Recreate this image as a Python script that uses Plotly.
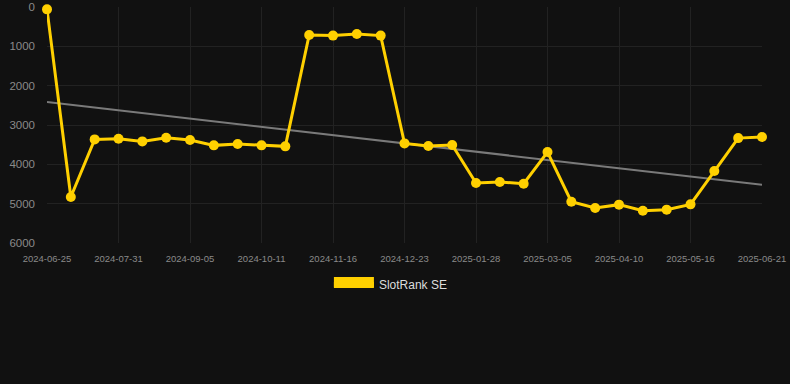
import numpy as np
import plotly.graph_objects as go

dates = ["2024-06-25", "2024-07-07", "2024-07-19", "2024-07-31", "2024-08-12", "2024-08-24",
         "2024-09-05", "2024-09-17", "2024-09-29", "2024-10-11", "2024-10-23", "2024-11-04",
         "2024-11-16", "2024-11-28", "2024-12-10", "2024-12-23", "2025-01-04", "2025-01-16",
         "2025-01-28", "2025-02-09", "2025-02-21", "2025-03-05", "2025-03-17", "2025-03-29",
         "2025-04-10", "2025-04-22", "2025-05-04", "2025-05-16", "2025-05-28", "2025-06-09",
         "2025-06-21"]
ranks = [60, 4830, 3366, 3350, 3417, 3325, 3383, 3518, 3485, 3518, 3543, 710, 727, 685, 727,
         3468, 3536, 3510, 4475, 4450, 4492, 3688, 4950, 5110, 5025, 5178, 5152, 5017, 4170,
         3333, 3307]
tick_labels = dates[::3]
y_ticks = [0, 1000, 2000, 3000, 4000, 5000, 6000]
series_name = "SlotRank SE"

idx = np.arange(len(ranks))
slope, intercept = np.polyfit(idx, ranks, 1)
trend = slope * idx + intercept

GOLD = "#FFD000"
fig = go.Figure()
fig.add_trace(go.Scatter(x=dates, y=trend, mode="lines",
                         line=dict(color="#7a7a7a", width=2), showlegend=False,
                         hoverinfo="skip"))
fig.add_trace(go.Scatter(x=dates, y=ranks, mode="lines+markers",
                         line=dict(color=GOLD, width=3),
                         marker=dict(color=GOLD, size=10),
                         cliponaxis=False, showlegend=False))
fig.add_trace(go.Scatter(x=[None], y=[None], mode="lines", name=series_name,
                         fill="toself", fillcolor=GOLD,
                         line=dict(color=GOLD, width=12)))

fig.update_layout(
    width=790, height=384,
    paper_bgcolor="#111111", plot_bgcolor="#111111",
    margin=dict(l=47, r=28, t=7, b=141, autoexpand=False),
    font=dict(family="Arial, Liberation Sans, sans-serif", color="#8a8a8a"),
    xaxis=dict(type="category", range=[0, len(dates) - 1],
               tickmode="array", tickvals=tick_labels, ticktext=tick_labels,
               tickfont=dict(size=9.5, color="#8a8a8a"), tickangle=0,
               showgrid=True, gridcolor="#222222", gridwidth=1, automargin=False,
               zeroline=False, showline=False, ticks="", ticklabelstandoff=8),
    yaxis=dict(range=[6000, 0], tickvals=y_ticks,
               tickfont=dict(size=11.5, color="#8a8a8a"),
               showgrid=True, gridcolor="#222222", gridwidth=1, automargin=False,
               zeroline=False, showline=False, ticks="", ticklabelstandoff=11),
    legend=dict(orientation="h", x=0.481, xanchor="center",
                y=-0.112, yanchor="top",
                font=dict(size=12, color="#dddddd"), itemwidth=40),
    showlegend=True,
)

fig.write_html("out.html", config={"displayModeBar": False},
               post_script="document.body.style.margin='0';document.body.style.background='#111111';")
